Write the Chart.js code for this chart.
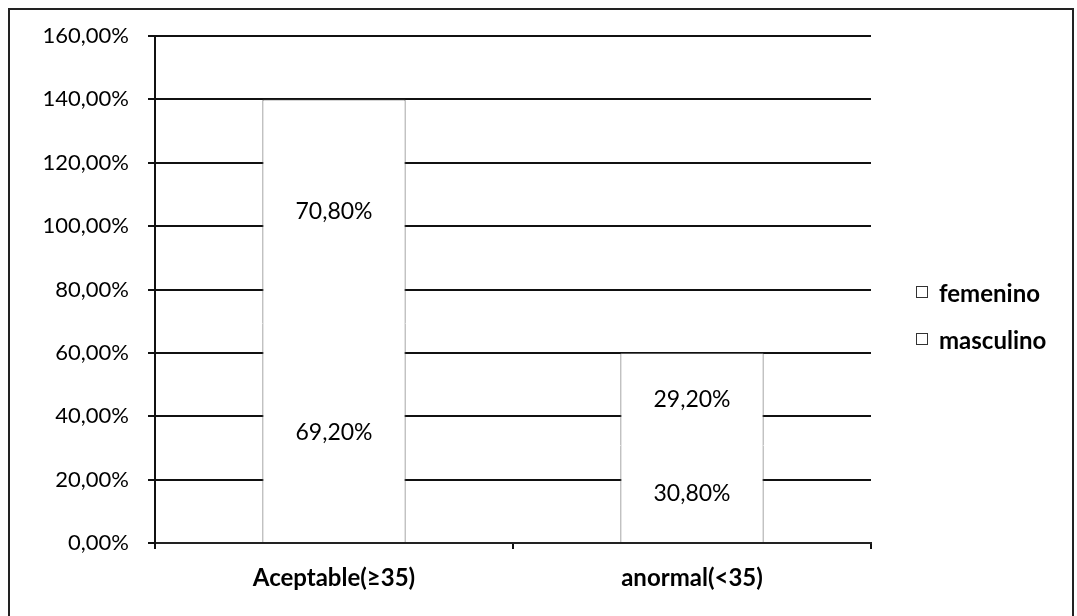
<!DOCTYPE html>
<html>
<head>
<meta charset="utf-8">
<script src="https://cdn.jsdelivr.net/npm/chart.js@4/dist/chart.umd.min.js"></script>
<style>
  html, body { margin: 0; padding: 0; background: #fff; overflow: hidden; }
  #wrap { position: relative; width: 1077px; height: 616px; }
  #frame { position: absolute; left: 8px; top: 8px; width: 1066px; height: 640px;
           border: 2px solid #222; box-sizing: border-box; pointer-events: none; }
  canvas { position: absolute; left: 0; top: 0; }
  #legend { position: absolute; left: 916px; top: 278px; font-family: Lato, "Open Sans", sans-serif;
            font-size: 24px; font-weight: bold; color: #000; }
  .item { display: flex; align-items: center; height: 28px; margin-bottom: 19px; }
  .box { width: 10px; height: 10px; border: 1.5px solid #333; background: #fff; margin-right: 11px; }
</style>
</head>
<body>
<div id="wrap">
  <canvas id="c" width="1077" height="616"></canvas>
  <div id="frame"></div>
  <div id="legend"></div>
</div>
<script>
// Categories and stacked series (percent)
const categories = ['Aceptable(\u226535)', 'anormal(<35)'];
const seriesNames = ['masculino', 'femenino'];
const masculino = [69.2, 30.8];
const femenino = [70.8, 29.2];
const yTicks = [0, 20, 40, 60, 80, 100, 120, 140, 160];

const FONT = 'Lato, "Open Sans", sans-serif';
const fmt = v => v.toFixed(2).replace('.', ',') + '%';

// Writes each segment's value at the centre of its bar piece
const barLabels = {
  id: 'barLabels',
  afterDatasetsDraw(chart) {
    const ctx = chart.ctx;
    ctx.save();
    ctx.font = '23px ' + FONT;
    ctx.fillStyle = '#000';
    ctx.textAlign = 'center';
    ctx.textBaseline = 'middle';
    chart.data.datasets.forEach((ds, i) => {
      chart.getDatasetMeta(i).data.forEach((bar, j) => {
        const p = bar.getProps(['x', 'y', 'base'], true);
        ctx.fillText(fmt(ds.data[j]), p.x, (p.y + p.base) / 2);
      });
    });
    ctx.restore();
  }
};

const chart = new Chart(document.getElementById('c'), {
  type: 'bar',
  data: {
    labels: categories,
    datasets: [
      { label: seriesNames[0], data: masculino, backgroundColor: '#fff', borderColor: '#555',
        borderWidth: { left: 1, right: 1, top: 0, bottom: 0 }, borderSkipped: false },
      { label: seriesNames[1], data: femenino, backgroundColor: '#fff', borderColor: '#555',
        borderWidth: { left: 1, right: 1, top: 1, bottom: 0 }, borderSkipped: false }
    ]
  },
  options: {
    responsive: false,
    animation: false,
    devicePixelRatio: 1,
    layout: { padding: { left: 0, top: 36, right: 206, bottom: 0 } },
    datasets: { bar: { categoryPercentage: 1, barPercentage: 0.4 } },
    plugins: { legend: { display: false }, tooltip: { enabled: false } },
    scales: {
      x: {
        stacked: true,
        afterFit: s => { s.height = 73; },
        grid: { offset: true, drawOnChartArea: false, drawTicks: true, tickLength: 6, color: '#111', lineWidth: 2 },
        border: { display: true, color: '#222', width: 2 },
        ticks: { color: '#000', font: { family: FONT, size: 24, weight: 'bold' }, padding: 15 }
      },
      y: {
        stacked: true,
        min: 0, max: 160,
        afterFit: s => { s.width = 155; },
        afterBuildTicks: s => { s.ticks = yTicks.map(v => ({ value: v })); },
        grid: { color: '#111', lineWidth: 2, tickLength: 7 },
        border: { display: true, color: '#111', width: 2 },
        ticks: { color: '#000', font: { family: FONT, size: 22 }, padding: 19, callback: v => fmt(v) }
      }
    }
  },
  plugins: [barLabels]
});

// Legend in the right margin, top entry first
const legend = document.getElementById('legend');
chart.data.datasets.slice().reverse().forEach(ds => {
  const item = document.createElement('div');
  item.className = 'item';
  const box = document.createElement('span');
  box.className = 'box';
  const txt = document.createElement('span');
  txt.textContent = ds.label;
  item.appendChild(box);
  item.appendChild(txt);
  legend.appendChild(item);
});
</script>
</body>
</html>
